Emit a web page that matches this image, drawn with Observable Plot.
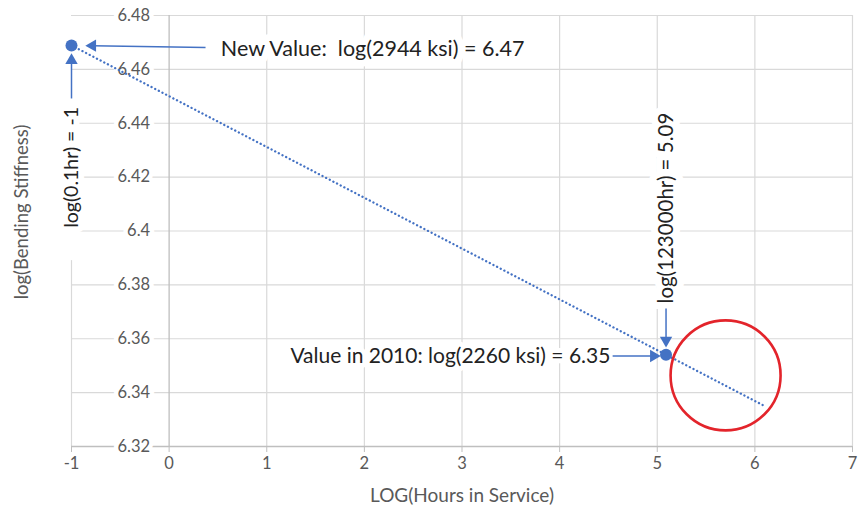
<!DOCTYPE html>
<html>
<head>
<meta charset="utf-8">
<script src="https://cdn.jsdelivr.net/npm/d3@7"></script>
<script src="https://cdn.jsdelivr.net/npm/@observablehq/plot@0.6"></script>
<style>
  html, body { margin: 0; padding: 0; background: #fff; }
  #chart { width: 865px; height: 512px; }
</style>
</head>
<body>
<div id="chart"></div>
<script>
// ---- data ----
const xTicks = [-1, 0, 1, 2, 3, 4, 5, 6, 7];
const yTicks = [6.32, 6.34, 6.36, 6.38, 6.40, 6.42, 6.44, 6.46, 6.48];
const yTickLabels = ["6.32", "6.34", "6.36", "6.38", "6.4", "6.42", "6.44", "6.46", "6.48"];

const pointX = [-1, 5.09];
const pointY = [6.4689, 6.3541];

const trendX = [-1, 6.08];
const trendY = [6.4689, 6.3354];

const circleX = [5.70];
const circleY = [6.3464];

const xLabel = "LOG(Hours in Service)";
const yLabel = "log(Bending Stiffness)";

// annotation texts
const noteNewText = ["New Value:  log(2944 ksi) = 6.47"];
const noteNewX = [0.53];
const noteNewY = [6.4677];

const note2010Text = ["Value in 2010: log(2260 ksi) = 6.35"];
const note2010X = [4.52];
const note2010Y = [6.3534];

const noteLowText = ["log(0.1hr) = -1"];
const noteLowX = [-1];
const noteLowY = [6.4236];

const noteHighText = ["log(123000hr) = 5.09"];
const noteHighX = [5.09];
const noteHighY = [6.4085];

// arrows: shaft start -> arrowhead centre, rotation of arrowhead
const arrowX1 = [0.373, -1, 5.09, 4.543];
const arrowY1 = [6.4681, 6.4492, 6.3712, 6.3536];
const arrowX2 = [-0.785, -1, 5.09, 4.963];
const arrowY2 = [6.4688, 6.4633, 6.3594, 6.3536];
const arrowRotate = [-90, 0, 180, 90];

// ---- build ----
const arrows = arrowX1.map((x1, i) => ({x1, y1: arrowY1[i], x2: arrowX2[i], y2: arrowY2[i], rotate: arrowRotate[i]}));
const points = pointX.map((x, i) => ({x, y: pointY[i]}));
const trend = trendX.map((x, i) => ({x, y: trendY[i]}));
const yt = yTicks.map((y, i) => ({y, label: yTickLabels[i]}));

const blue = "#4472C4";
const grid = "#d9d9d9";
const axisCol = "#bfbfbf";
const textGray = "#595959";
const dark = "#222222";

const chart = Plot.plot({
  width: 865,
  height: 512,
  marginLeft: 71,
  marginRight: 13,
  marginTop: 15,
  marginBottom: 66,
  style: {fontFamily: "Lato, 'Liberation Sans', sans-serif", fontSize: "15px", background: "#fff"},
  x: {domain: [-1, 7], ticks: xTicks},
  y: {domain: [6.32, 6.48], ticks: yTicks},
  marks: [
    // gridlines
    Plot.ruleY(yTicks, {stroke: grid, strokeWidth: 1.2}),
    Plot.ruleX(xTicks.filter(d => d > -1 && d !== 0), {stroke: grid, strokeWidth: 1.2}),
    Plot.ruleX([-1], {y1: 6.32, y2: 6.389, stroke: grid, strokeWidth: 1.2}),
    // axes lines
    Plot.ruleX([0], {stroke: axisCol, strokeWidth: 1.3}),
    Plot.ruleY([6.32], {stroke: axisCol, strokeWidth: 1.3}),
    Plot.axisX({ticks: xTicks, tickSize: 6, tickPadding: 5, stroke: axisCol, fill: textGray, fontSize: 16.5, label: null, tickFormat: d => String(d)}),
    Plot.axisY({ticks: [], label: null}),
    // y tick labels at x = 0 with white box
    Plot.text(yt, {x: 0, y: "y", text: "label", textAnchor: "end", dx: -19, fill: textGray, stroke: "#fff", strokeWidth: 9, fontSize: 16.5}),
    // axis titles
    Plot.text([xLabel], {frameAnchor: "bottom", textAnchor: "middle", lineAnchor: "middle", dy: 49, fill: textGray, fontSize: 19}),
    Plot.text([yLabel], {frameAnchor: "left", textAnchor: "middle", lineAnchor: "middle", dx: -49, dy: -19, rotate: -90, fill: textGray, fontSize: 18.5}),
    // trend line
    Plot.line(trend, {x: "x", y: "y", stroke: blue, strokeWidth: 2.3, strokeDasharray: "0.1,4", strokeLinecap: "round"}),
    // annotation texts (white boxes)
    Plot.text(noteNewText, {x: noteNewX, y: noteNewY, text: d => d, textAnchor: "start", fill: dark, stroke: "#fff", strokeWidth: 14, fontSize: 21.5}),
    Plot.text(note2010Text, {x: note2010X, y: note2010Y, text: d => d, textAnchor: "end", fill: dark, stroke: "#fff", strokeWidth: 10, fontSize: 21}),
    Plot.text(noteLowText, {x: noteLowX, y: noteLowY, text: d => d, rotate: -90, fill: dark, stroke: "#fff", strokeWidth: 12, fontSize: 19.5}),
    Plot.text(noteHighText, {x: noteHighX, y: noteHighY, text: d => d, rotate: -90, fill: dark, stroke: "#fff", strokeWidth: 14, fontSize: 20.5}),
    // arrows
    Plot.link(arrows, {x1: "x1", y1: "y1", x2: "x2", y2: "y2", stroke: blue, strokeWidth: 1.5}),
    Plot.dot(arrows, {x: "x2", y: "y2", symbol: "triangle", rotate: "rotate", r: 4.6, fill: blue, stroke: "none"}),
    // data points
    Plot.dot(points, {x: "x", y: "y", r: 6, fill: blue, stroke: "none"}),
    // red circle
    Plot.dot(circleX.map((x, i) => ({x, y: circleY[i]})), {x: "x", y: "y", r: 55, fill: "none", stroke: "#e3242b", strokeWidth: 2.6})
  ]
});

document.getElementById("chart").appendChild(chart);
</script>
</body>
</html>
